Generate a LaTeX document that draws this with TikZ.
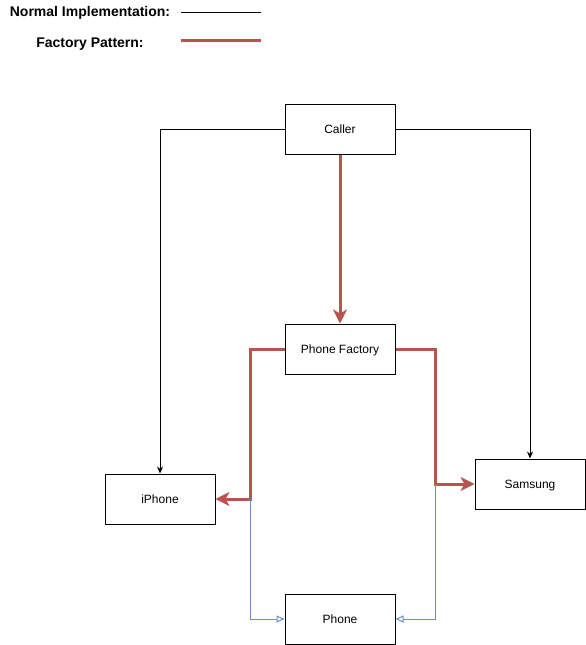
\documentclass[tikz,border=0pt]{standalone}
\usepackage{fontspec}
\setmainfont{Liberation Sans}
\usetikzlibrary{arrows.meta}
\definecolor{factoryred}{HTML}{B85450}
\definecolor{ifaceblue}{HTML}{6C8EBF}
\tikzset{
  box/.style={draw, line width=1pt, fill=white, minimum width=110pt, minimum height=50pt, inner sep=0pt, text height=9pt, text depth=0.5pt, font=\fontsize{12}{14}\selectfont},
  legend/.style={font=\fontsize{14}{16}\selectfont\bfseries, inner sep=0pt},
  normal/.style={line width=1pt, -{Stealth[length=7pt,width=6pt]}},
  factory/.style={draw=factoryred, line width=3pt, -{Stealth[length=14pt,width=14pt,inset=4pt]}},
  realizes/.style={draw=ifaceblue, line width=1pt, -{Triangle[open,length=8pt,width=7pt]}}
}
\begin{document}
\begin{tikzpicture}[x=1pt,y=-1pt]
        \useasboundingbox (0,0) rectangle (586,645);
        % legend
        \node[legend] (normtxt) at (90,13) {Normal Implementation:};
        \coordinate (norma) at (181,12);
        \coordinate (normb) at (261,12);
        \draw[line width=1pt] (norma) -- (normb);
        \node[legend] (facttxt) at (90,44) {Factory Pattern:};
        \coordinate (facta) at (181,40);
        \coordinate (factb) at (261,40);
        \draw[draw=factoryred, line width=3pt] (facta) -- (factb);

        % boxes
        \node[box] (caller) at (340,129) {Caller};
        \node[box] (factory) at (340,349) {Phone Factory};
        \node[box] (iphone) at (160,499) {iPhone};
        \node[box] (samsung) at (530,484) {Samsung};
        \node[box] (phone) at (340,619) {Phone};

        % normal implementation
        \draw[normal] (caller.west) -| (iphone.north);
        \draw[normal] (caller.east) -| (samsung.north);

        % factory pattern
        \coordinate (lsplit) at (250,499);
        \coordinate (rsplit) at (435,484);
        \draw[factory] (caller.south) -- (factory.north);
        \draw[factory] (factory.west) -| (lsplit) -- (iphone.east);
        \draw[factory] (factory.east) -| (rsplit) -- (samsung.west);

        % both are phones
        \draw[realizes] (lsplit) |- (phone.west);
        \draw[realizes] (rsplit) |- (phone.east);
      \end{tikzpicture}
\end{document}
